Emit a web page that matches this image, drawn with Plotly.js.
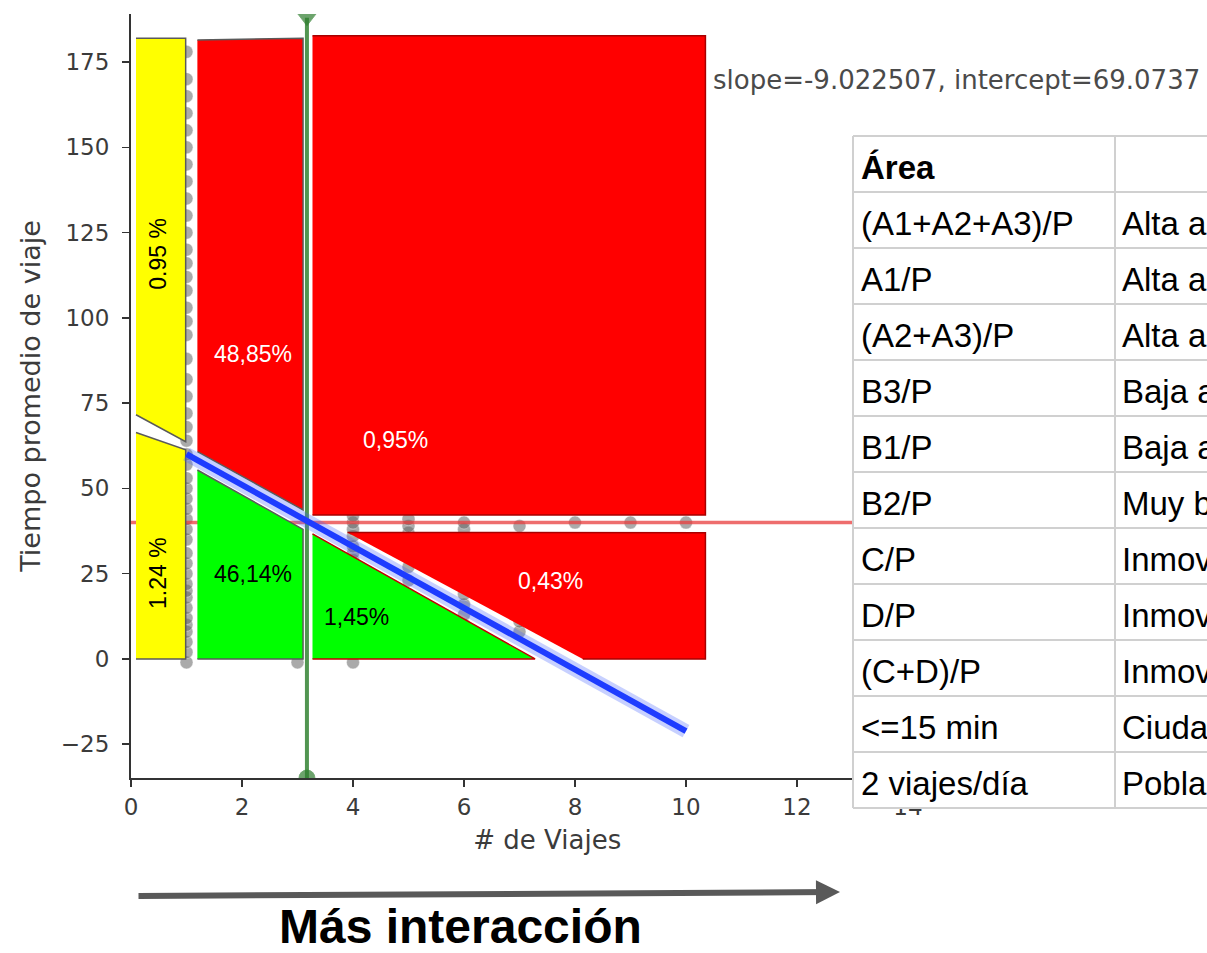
<!DOCTYPE html>
<html><head><meta charset="utf-8">
<script src="https://cdn.plot.ly/plotly-3.0.1.min.js"></script>
<style>html,body{margin:0;padding:0;background:#fff;}#chart{width:1207px;height:953px;}</style>
</head><body><div id="chart"></div>
<script>
// ---------- data ----------
const xTickVals = [0, 2, 4, 6, 8, 10, 12, 14];
const yTickVals = [-25, 0, 25, 50, 75, 100, 125, 150, 175];

// observed points (mostly hidden behind the regions)
const pointsX = [1,1,1,1,1,1,1,1,1,1,1,1,1,1,1,1,1,1,1,1,1,1,1,1,1,1,1,1,1,1,1,1,1,1,1,1,1,1,1,1,1,1,1,1,1,1,
                 3,4,4,4,4,4,4,4,4,5,5,5,5,5,5,5,5,6,6,6,6,6,6,7,7,7,7,8,9,10];
const pointsY = [-1,2,5,8,10,12,15,18,20,22,25,28,31,35,38,41,44,47,50,53,57,60,64,68,72,77,82,88,95,99,103,108,112,116,120,125,130,135,140,145,150,155,160,165,170,178,
                 -1,-1,29,31,33,36,38,40,42,11,15,19,23,27,37,39,41,10,13,16,19,38,40,8,11,13,39,40,40,40];

// regression line
const regX = [1, 10];
const regY = [60.05, -21.15];
const regText = 'slope=-9.022507, intercept=69.0737';

// reference lines
const hLineX = [0, 15];
const hLineY = [40, 40];
const vLineX = [3.17, 3.17];
const vLineY = [188, -34.9];

// regions (polygons)
const yellowTopX = [0.09, 0.985, 0.985, 0.09];
const yellowTopY = [182, 182, 63.7, 71.6];
const yellowBotX = [0.09, 0.985, 0.985, 0.09];
const yellowBotY = [66.4, 61.3, 0, 0];
const redAX = [1.196, 3.10, 3.10, 1.196];
const redAY = [181.5, 182.0, 43.7, 60.8];
const redBX = [3.27, 10.35, 10.35, 3.27];
const redBY = [182.7, 182.7, 42.2, 42.2];
const redCX = [3.90, 10.35, 10.35, 8.14];
const redCY = [37.1, 37.0, 0, 0];
const greenAX = [1.196, 3.10, 3.10, 1.196];
const greenAY = [55.4, 38.0, 0, 0];
const greenBX = [3.27, 7.28, 3.27];
const greenBY = [36.7, 0, 0];

// region labels
const labelText = ['0.95 %', '1.24 %', '48,85%', '0,95%', '0,43%', '46,14%', '1,45%'];
const labelX = [0.486, 0.486, 2.19, 4.76, 7.56, 2.19, 4.07];
const labelY = [118.8, 25.2, 89.4, 64.2, 22.9, 24.9, 12.4];
const labelColor = ['black', 'black', 'white', 'white', 'white', 'black', 'black'];
const labelAngle = [-90, -90, 0, 0, 0, 0, 0];

// table
const tableHeader = ['<b>Área</b>', ''];
const tableCol1 = ['(A1+A2+A3)/P', 'A1/P', '(A2+A3)/P', 'B3/P', 'B1/P', 'B2/P', 'C/P', 'D/P', '(C+D)/P', '&lt;=15 min', '2 viajes/día'];
const tableCol2 = ['Alta a', 'Alta a', 'Alta a', 'Baja a', 'Baja a', 'Muy b', 'Inmov', 'Inmov', 'Inmov', 'Ciuda', 'Pobla'];

const xTitle = '# de Viajes';
const yTitle = 'Tiempo promedio de viaje';
const bottomText = 'Más interacción';

// ---------- figure ----------
const W = 1207, H = 953;
const px = v => v / W, py = v => 1 - v / H;

function region(x, y, fill, edge) {
  return {x: x, y: y, type: 'scatter', mode: 'lines', fill: 'toself', fillcolor: fill,
          line: {color: edge, width: 1.5}, hoverinfo: 'skip', showlegend: false};
}

const traces = [
  {x: pointsX, y: pointsY, type: 'scatter', mode: 'markers',
   marker: {size: 13, color: 'rgba(100,100,100,0.55)', line: {color: 'rgba(255,255,255,0.4)', width: 1}},
   hoverinfo: 'skip', showlegend: false},
  {x: hLineX, y: hLineY, type: 'scatter', mode: 'lines',
   line: {color: 'rgba(232,60,60,0.75)', width: 3.5}, hoverinfo: 'skip', showlegend: false},
  region(yellowTopX, yellowTopY, '#ffff00', '#5a5a5a'),
  region(yellowBotX, yellowBotY, '#ffff00', '#5a5a5a'),
  region(redAX, redAY, '#ff0000', '#5a5a5a'),
  region(redBX, redBY, '#ff0000', '#a80000'),
  region(redCX, redCY, '#ff0000', '#a80000'),
  region(greenAX, greenAY, '#00ff00', '#5a5a5a'),
  region(greenBX, greenBY, '#00ff00', '#c00000'),
  {x: vLineX, y: vLineY, type: 'scatter', mode: 'lines+markers',
   line: {color: 'rgba(50,130,50,0.85)', width: 4},
   marker: {symbol: ['triangle-down', 'circle'], size: [16, 16], color: '#2f7d2f'},
   cliponaxis: true, hoverinfo: 'skip', showlegend: false},
  {x: regX, y: regY, type: 'scatter', mode: 'lines',
   line: {color: 'rgba(70,100,255,0.3)', width: 14}, hoverinfo: 'skip', showlegend: false},
  {x: regX, y: regY, type: 'scatter', mode: 'lines',
   line: {color: '#1e3cff', width: 6}, hoverinfo: 'skip', showlegend: false}
];

// ---- table drawn with shapes + annotations ----
const tLeft = 853, tDiv = 1115, tRight = 1260, tTop = 136, rowH = 56;
const nRows = tableCol1.length + 1;
const shapes = [
  {type: 'rect', xref: 'paper', yref: 'paper', layer: 'above',
   x0: px(tLeft), x1: px(tRight), y0: py(tTop), y1: py(tTop + nRows * rowH),
   fillcolor: 'white', line: {width: 0}}
];
for (let k = 0; k <= nRows; k++) {
  shapes.push({type: 'line', xref: 'paper', yref: 'paper', layer: 'above',
    x0: px(tLeft), x1: px(tRight), y0: py(tTop + k * rowH), y1: py(tTop + k * rowH),
    line: {color: '#d0d0d0', width: 2}});
}
[tLeft, tDiv].forEach(xv => shapes.push({type: 'line', xref: 'paper', yref: 'paper', layer: 'above',
    x0: px(xv), x1: px(xv), y0: py(tTop), y1: py(tTop + nRows * rowH),
    line: {color: '#d0d0d0', width: 2}}));

const tableFont = {family: 'Liberation Sans, Arial, sans-serif', size: 33, color: 'black'};
const annotations = [];
const rowsC1 = [tableHeader[0]].concat(tableCol1);
const rowsC2 = [tableHeader[1]].concat(tableCol2);
rowsC1.forEach((t, k) => {
  const yc = tTop + k * rowH + rowH / 2 + 3;
  annotations.push({xref: 'paper', yref: 'paper', x: px(859), y: py(yc), xanchor: 'left', yanchor: 'middle',
    text: t, showarrow: false, font: tableFont});
  if (rowsC2[k]) annotations.push({xref: 'paper', yref: 'paper', x: px(1120), y: py(yc), xanchor: 'left', yanchor: 'middle',
    text: rowsC2[k], showarrow: false, font: tableFont});
});

labelText.forEach((t, i) => annotations.push({
  x: labelX[i], y: labelY[i], xref: 'x', yref: 'y', text: t, showarrow: false,
  textangle: labelAngle[i], xanchor: 'center', yanchor: 'middle',
  font: {family: 'Liberation Sans, Arial, sans-serif', size: 23, color: labelColor[i]}
}));
annotations.push({
  xref: 'paper', yref: 'paper', x: px(711), y: py(80), xanchor: 'left', yanchor: 'middle',
  text: regText, showarrow: false,
  font: {family: 'DejaVu Sans', size: 26, color: '#4a4a4a'}
});
annotations.push({
  xref: 'paper', yref: 'paper', x: px(840), y: py(892), ax: 137 - 840, ay: 4,
  axref: 'pixel', ayref: 'pixel', text: '', showarrow: true,
  arrowhead: 2, arrowsize: 0.8, arrowwidth: 6, arrowcolor: '#595959', standoff: 0
});
annotations.push({
  xref: 'paper', yref: 'paper', x: px(460), y: py(926), xanchor: 'center', yanchor: 'middle',
  text: '<b>' + bottomText + '</b>', showarrow: false,
  font: {family: 'Liberation Sans, Arial, sans-serif', size: 48, color: 'black'}
});

const axisFont = {family: 'DejaVu Sans', size: 23, color: '#3b3b3b'};
const layout = {
  width: W, height: H,
  margin: {l: 0, r: 0, t: 0, b: 0},
  paper_bgcolor: 'white', plot_bgcolor: 'white',
  showlegend: false,
  xaxis: {domain: [px(131), px(963.5)], range: [0, 15], tickvals: xTickVals,
          showline: true, linecolor: '#333', linewidth: 2, ticks: 'outside', ticklen: 7,
          tickwidth: 1.5, tickcolor: '#333', showgrid: false, zeroline: false,
          tickfont: axisFont, automargin: false,
          title: {text: xTitle, font: {family: 'DejaVu Sans', size: 26, color: '#3b3b3b'}, standoff: 12}},
  yaxis: {domain: [py(778), py(14)], range: [-34.9, 189.1], tickvals: yTickVals,
          showline: true, linecolor: '#333', linewidth: 2, ticks: 'outside', ticklen: 7,
          tickwidth: 1.5, tickcolor: '#333', showgrid: false, zeroline: false,
          tickfont: axisFont, automargin: false, ticklabelstandoff: 8,
          title: {text: yTitle, font: {family: 'DejaVu Sans', size: 27, color: '#3b3b3b'}, standoff: 12}},
  shapes: shapes,
  annotations: annotations
};

Plotly.newPlot('chart', traces, layout, {displayModeBar: false, staticPlot: true});
</script>
</body></html>
